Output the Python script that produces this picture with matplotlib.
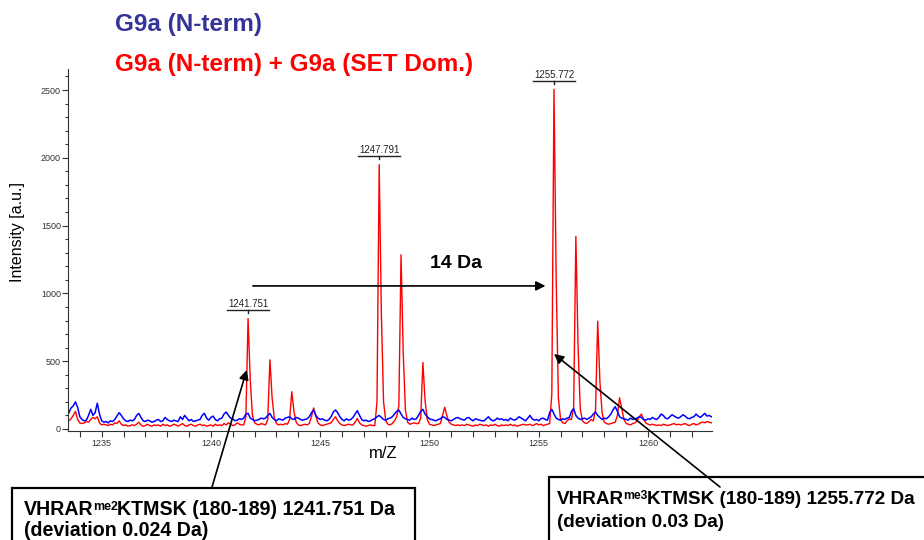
import numpy as np
import matplotlib
matplotlib.use("Agg")
import matplotlib.pyplot as plt
from matplotlib.patches import Rectangle
from matplotlib.ticker import MultipleLocator

plt.rcParams['font.family'] = ['Liberation Sans', 'DejaVu Sans']

# spectrum sampled every 0.1 Da starting at 1233.5 (one row = 1 Da)
mz_start = 1233.5
mz_step = 0.1

red = [
    60, 75, 100, 130, 70, 45, 40, 45, 55, 50,
    70, 85, 75, 90, 45, 30, 35, 30, 25, 35,
    30, 45, 40, 60, 35, 25, 30, 20, 25, 30,
    25, 35, 50, 30, 20, 25, 35, 25, 20, 30,
    25, 30, 20, 35, 25, 30, 20, 25, 35, 30,
    20, 30, 40, 25, 20, 30, 35, 25, 20, 30,
    35, 25, 30, 20, 25, 30, 20, 35, 25, 30,
    25, 40, 30, 45, 35, 25, 30, 45, 35, 30,
    30, 90, 815, 360, 100, 45, 35, 30, 40, 35,
    30, 70, 510, 230, 80, 40, 30, 35, 30, 40,
    35, 70, 275, 130, 50, 30, 25, 30, 35, 30,
    40, 90, 155, 95, 45, 30, 25, 30, 35, 40,
    45, 70, 90, 60, 40, 30, 25, 30, 35, 30,
    30, 50, 78, 45, 30, 25, 20, 25, 30, 25,
    25, 200, 1950, 850, 200, 60, 35, 30, 40, 60,
    90, 170, 1285, 560, 140, 50, 35, 40, 45, 40,
    40, 80, 490, 210, 70, 35, 30, 25, 30, 35,
    40, 100, 160, 95, 50, 35, 30, 25, 30, 25,
    30, 25, 35, 30, 25, 20, 30, 25, 35, 30,
    25, 30, 20, 30, 25, 35, 25, 20, 30, 25,
    30, 25, 35, 25, 30, 20, 25, 30, 35, 30,
    30, 35, 25, 30, 40, 30, 35, 25, 30, 35,
    40, 260, 2505, 1100, 230, 70, 45, 40, 60, 75,
    70, 160, 1420, 620, 150, 60, 45, 40, 55, 70,
    60, 140, 795, 350, 120, 50, 40, 35, 40, 45,
    50, 100, 230, 150, 70, 40, 35, 30, 40, 45,
    60, 90, 110, 70, 45, 35, 30, 35, 30, 25,
    30, 25, 35, 30, 25, 30, 35, 40, 30, 35,
    30, 35, 40, 30, 25, 35, 40, 30, 35, 45,
    50, 45, 55, 50, 45,
]

blue = [
    120, 155, 170, 200, 160, 90, 70, 60, 65, 100,
    145, 100, 120, 190, 110, 60, 50, 55, 45, 60,
    55, 70, 95, 120, 100, 75, 60, 55, 65, 60,
    70, 100, 115, 85, 60, 55, 65, 60, 50, 55,
    65, 70, 55, 60, 85, 70, 60, 55, 65, 60,
    55, 90, 70, 100, 80, 60, 70, 55, 60, 65,
    70, 100, 115, 80, 65, 85, 95, 70, 60, 75,
    80, 110, 125, 100, 80, 75, 60, 65, 75, 70,
    80, 110, 115, 80, 70, 60, 65, 70, 80, 75,
    80, 100, 115, 85, 70, 60, 75, 70, 65, 80,
    85, 90, 75, 70, 85, 80, 70, 65, 70, 75,
    90, 120, 140, 100, 80, 70, 75, 65, 60, 70,
    90, 125, 140, 120, 90, 70, 60, 75, 65, 70,
    85, 110, 135, 100, 70, 60, 65, 55, 60, 70,
    75, 90, 100, 85, 70, 65, 75, 80, 90, 110,
    130, 140, 110, 85, 75, 70, 65, 80, 70, 75,
    100, 130, 145, 110, 90, 75, 70, 65, 60, 70,
    75, 90, 85, 70, 65, 60, 70, 80, 85, 75,
    70, 65, 80, 85, 70, 60, 75, 70, 65, 60,
    60, 75, 90, 70, 60, 65, 80, 70, 75, 65,
    70, 60, 80, 70, 65, 75, 90, 80, 70, 60,
    80, 100, 75, 65, 70, 60, 75, 80, 70, 65,
    120, 145, 110, 80, 70, 65, 75, 70, 80, 85,
    130, 150, 100, 80, 70, 75, 80, 70, 80, 90,
    110, 125, 100, 85, 70, 80, 75, 90, 110, 140,
    165, 130, 90, 80, 75, 70, 65, 80, 70, 75,
    80, 90, 85, 70, 65, 75, 70, 85, 75, 70,
    85, 110, 100, 80, 75, 90, 105, 95, 85, 80,
    90, 105, 95, 80, 75, 85, 90, 110, 95, 85,
    100, 115, 95, 100, 90,
]

peak_labels = ["1241.751", "1247.791", "1255.772"]
peak_mz = [1241.7, 1247.7, 1255.7]
peak_int = [815, 1950, 2505]

mz = np.round(mz_start + mz_step * np.arange(len(red)), 1)

fig = plt.figure(figsize=(9.24, 5.4), dpi=100)
W, H = 924, 540
ax = fig.add_axes([68 / W, (H - 431) / H, (712 - 68) / W, (431 - 69) / H])

ax.plot(mz, red, color="#ff0000", lw=1.0)
ax.plot(mz, blue, color="#0000ff", lw=1.1)

ax.set_xlim(1233.46, 1262.93)
ax.set_ylim(-15, 2655)
for s in ["top", "right"]:
    ax.spines[s].set_visible(False)
ax.spines["left"].set_color("#333333")
ax.spines["bottom"].set_color("#333333")
ax.xaxis.set_major_locator(MultipleLocator(5))
ax.xaxis.set_minor_locator(MultipleLocator(1))
ax.yaxis.set_major_locator(MultipleLocator(500))
ax.yaxis.set_minor_locator(MultipleLocator(100))
ax.tick_params(which="both", labelsize=6.5, colors="#333333", width=0.8)
ax.tick_params(axis="x", which="both", length=4, pad=2)
ax.tick_params(axis="y", which="major", length=4, pad=1)
ax.tick_params(axis="y", which="minor", length=2.5)

fig.text(18 / W, (H - 232) / H, "Intensity [a.u.]", rotation=90, fontsize=11.5,
         ha="center", va="center")
fig.text(383 / W, (H - 453) / H, "m/Z", fontsize=12, ha="center", va="center")

# titles
fig.text(115 / W, (H - 24) / H, "G9a (N-term)", color="#333399", fontsize=17.5,
         fontweight="bold", va="center")
fig.text(115 / W, (H - 65) / H, "G9a (N-term) + G9a (SET Dom.)", color="#ff0000",
         fontsize=17.5, fontweight="bold", va="center")

fig.canvas.draw()
renderer = fig.canvas.get_renderer()

# peak labels with small bars
for lab, x, y in zip(peak_labels, peak_mz, peak_int):
    px, py = ax.transData.transform((x, y))
    by = py + 8.5
    fig.add_artist(plt.Line2D([px - 21, px + 21], [by, by], color="#222222", lw=1.0,
                              transform=None))
    fig.add_artist(plt.Line2D([px, px], [by, by - 3], color="#222222", lw=1.0,
                              transform=None))
    fig.text(px / W, (by + 6) / H, lab, fontsize=7, ha="center", va="center",
             color="#222222")


def peptide_line(x, y_base, sup, rest, size):
    # "VHRAR" + small raised label + rest, drawn piece by piece
    t = fig.text(x / W, y_base / H, "VHRAR", fontsize=size, fontweight="bold",
                 va="baseline")
    x2 = t.get_window_extent(renderer).x1 - 1
    s = fig.text(x2 / W, (y_base + size * 0.36) / H, sup, fontsize=size * 0.64,
                 fontweight="bold", va="baseline")
    x3 = s.get_window_extent(renderer).x1 - 0.5
    fig.text(x3 / W, y_base / H, rest, fontsize=size, fontweight="bold", va="baseline")


# 14 Da arrow
ax.annotate("", xy=(1255.31, 1055), xytext=(1241.92, 1055),
            arrowprops=dict(arrowstyle="-|>", color="black", lw=1.2, mutation_scale=14,
                            shrinkA=0, shrinkB=0))
ax.text(1251.2, 1224, "14 Da", fontsize=14, fontweight="bold", ha="center", va="center")

# annotation boxes
fig.add_artist(Rectangle((12 / W, -0.05), (415 - 12) / W, (H - 488) / H + 0.05,
                         transform=fig.transFigure, fill=False, ec="black", lw=1.6))
fig.add_artist(Rectangle((549 / W, -0.05), 0.5, (H - 477) / H + 0.05,
                         transform=fig.transFigure, fill=False, ec="black", lw=1.6))

peptide_line(24, H - 515, "me2", "KTMSK (180-189) 1241.751 Da", 14.1)
fig.text(24 / W, (H - 536) / H, "(deviation 0.024 Da)", fontsize=14.1, fontweight="bold",
         va="baseline")
peptide_line(557, H - 504, "me3", "KTMSK (180-189) 1255.772 Da", 13.6)
fig.text(557 / W, (H - 527) / H, "(deviation 0.03 Da)", fontsize=13.6, fontweight="bold",
         va="baseline")

# arrows from boxes to peaks
ax.annotate("", xy=(246.7, H - 370), xycoords="figure pixels",
            xytext=(212, H - 487), textcoords="figure pixels",
            arrowprops=dict(arrowstyle="-|>", color="black", lw=1.2, mutation_scale=14,
                            shrinkA=0, shrinkB=0), annotation_clip=False)
ax.annotate("", xy=(554, H - 354), xycoords="figure pixels",
            xytext=(720, H - 487), textcoords="figure pixels",
            arrowprops=dict(arrowstyle="-|>", color="black", lw=1.2, mutation_scale=14,
                            shrinkA=0, shrinkB=0), annotation_clip=False)

fig.savefig("out.png", dpi=100)
